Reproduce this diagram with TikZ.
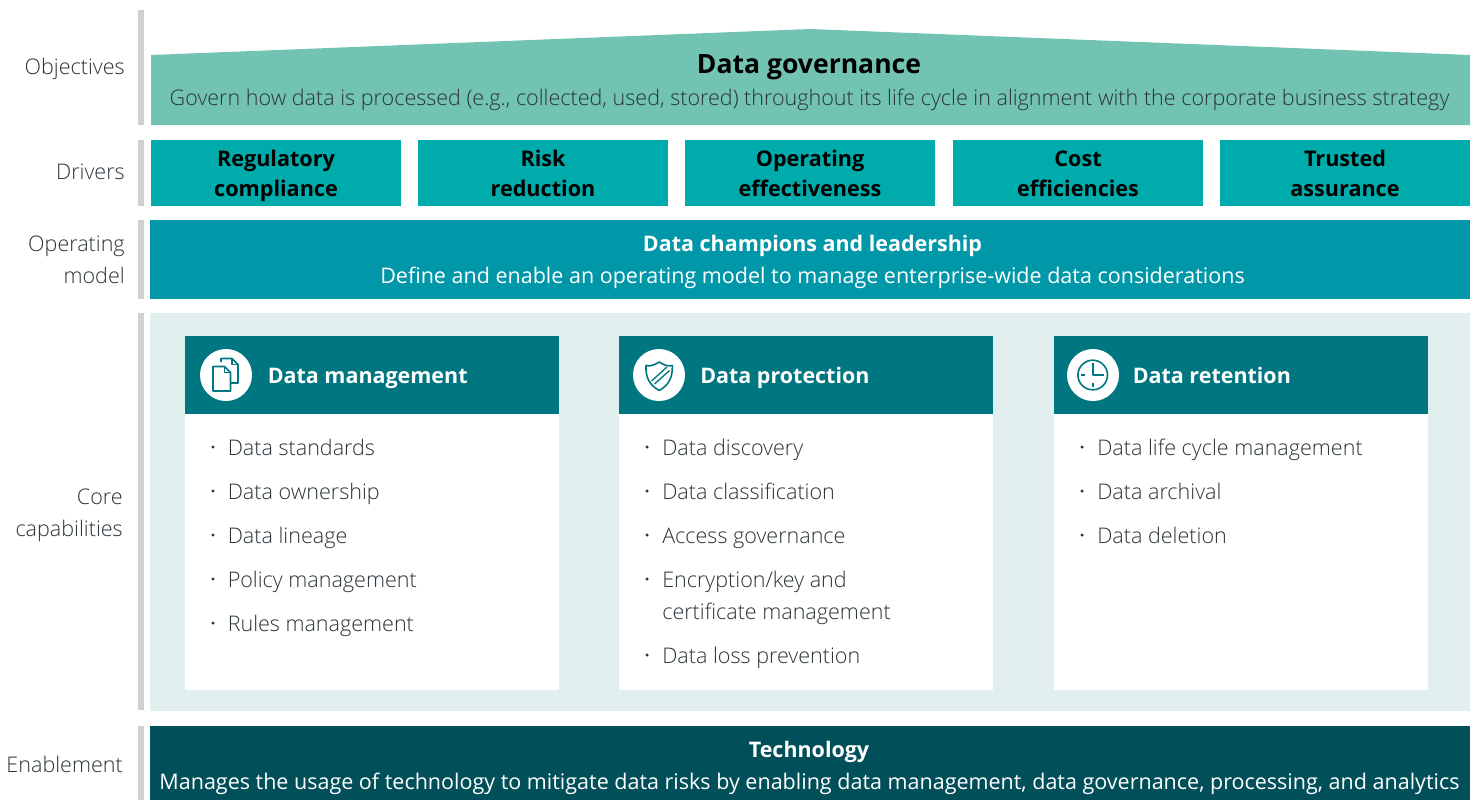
\documentclass[tikz,border=0pt]{standalone}
\usepackage{fontspec}
\setmainfont{Open Sans}[UprightFont={* Light},BoldFont={* Bold}]
\newfontfamily\regf{Open Sans}
\definecolor{cgreen}{HTML}{72C3B2}
\definecolor{cdrive}{HTML}{00ABAB}
\definecolor{coper}{HTML}{0097A9}
\definecolor{ccore}{HTML}{E2EFEF}
\definecolor{chead}{HTML}{007680}
\definecolor{ctech}{HTML}{004F59}
\definecolor{cgrey}{HTML}{D0D0CE}
\definecolor{ctext}{HTML}{2A3338}
\newcommand{\fs}{\fontsize{16.15}{24}\selectfont}
\newcommand{\fw}{\fontsize{16.13}{24}\selectfont\regf}
\newcommand{\fb}{\fontsize{16.1}{24}\selectfont\bfseries}
\newcommand{\st}{\rule[-5.25pt]{0pt}{22.5pt}}
\tikzset{
 bar/.style={fill=cgrey,draw=none},
 linelabel/.style={anchor=base east,text=ctext,inner sep=0pt,font=\fs},
 drivebox/.style={fill=cdrive,draw=none,minimum width=187.5pt,minimum height=49.5pt,inner sep=0pt,align=center,font=\fontsize{16.2}{22.5}\selectfont\bfseries,text=black},
 band/.style={draw=none,inner sep=0pt,anchor=north west,minimum width=990pt},
 card/.style={fill=white,draw=none,inner sep=0pt,anchor=north west,minimum width=280.5pt,minimum height=265.5pt},
 cardhead/.style={fill=chead,draw=none,inner sep=0pt,anchor=north west,minimum width=280.5pt,minimum height=58.5pt},
 headtext/.style={anchor=base west,inner sep=0pt,text=white,font=\fb},
 basetext/.style={anchor=base,inner sep=0pt},
 item/.style={anchor=base west,inner sep=0pt,text=ctext,font=\fs,align=left},
 dotmark/.style={circle,fill=ctext,draw=none,inner sep=0pt,minimum size=2.6pt},
 iconbg/.style={circle,fill=white,draw=none,inner sep=0pt,minimum size=39pt},
 icon/.style={draw=chead,line width=1.2pt,line join=round},
}
\begin{document}
\begin{tikzpicture}[x=0.75pt,y=-0.75pt]
\useasboundingbox (0,0) rectangle (1476,800);
% side bars
\fill[bar] (138,10) rectangle (143.5,125);
\fill[bar] (138,140) rectangle (143.5,206);
\fill[bar] (138,220) rectangle (143.5,299);
\fill[bar] (138,313) rectangle (143.5,710);
\fill[bar] (138,726) rectangle (143.5,800);
% row labels
\node[linelabel] (lobj) at (125,74) {Objectives};
\node[linelabel] (ldrv) at (125,179) {Drivers};
\node[linelabel] (lop) at (125,251) {Operating};
\node[linelabel] (lop2) at (125,283.5) {model};
\node[linelabel] (lcore) at (123,504) {Core};
\node[linelabel] (lcore2) at (123,536.5) {capabilities};
\node[linelabel] (lena) at (123,772) {Enablement};
% objective
\fill[cgreen] (151,55) -- (810,29) -- (1470,55) -- (1470,125) -- (151,125) -- cycle;
\node[basetext,text=black,font=\fontsize{19.9}{24}\selectfont\bfseries] (objt) at (809,73.5) {Data governance};
\node[basetext,text=ctext,font=\fs] (objs) at (809.5,105) {Govern how data is processed (e.g., collected, used, stored) throughout its life cycle in alignment with the corporate business strategy};
% drivers
\node[drivebox] (d1) at (276,173) {\st Regulatory\\\st compliance};
\node[drivebox] (d2) at (543,173) {\st Risk\\\st reduction};
\node[drivebox] (d3) at (810,173) {\st Operating\\\st effectiveness};
\node[drivebox] (d4) at (1078,173) {\st Cost\\\st efficiencies};
\node[drivebox] (d5) at (1345,173) {\st Trusted\\\st assurance};
% operating
\node[band,fill=coper,minimum height=59.25pt] (opb) at (150,220) {};
\node[basetext,text=white,font=\fb] (opt) at (812.5,251) {Data champions and leadership};
\node[basetext,text=white,font=\fw] (ops) at (812.5,283.5) {Define and enable an operating model to manage enterprise-wide data considerations};
% core
\node[band,fill=ccore,minimum height=298.5pt] (coreb) at (150,313) {};
\node[card] (c1) at (185,336) {};
\node[card] (c2) at (619,336) {};
\node[card] (c3) at (1054,336) {};
\node[cardhead] (h1) at (185,336) {};
\node[cardhead] (h2) at (619,336) {};
\node[cardhead] (h3) at (1054,336) {};
\node[iconbg] (i1) at (226,375) {};
\node[iconbg] (i2) at (659,375) {};
\node[iconbg] (i3) at (1093,375) {};
\node[headtext] (t1) at (267.5,383) {Data management};
\node[headtext] (t2) at (700,383) {Data protection};
\node[headtext] (t3) at (1132.5,383) {Data retention};
% icon: documents
\draw[icon] (221,362) -- (221,358.5) -- (232,358.5) -- (238,364.5) -- (238,383) -- (231,383);
\draw[icon] (232,358.5) -- (232,364.5) -- (238,364.5);
\draw[icon] (213,366.5) -- (224.5,366.5) -- (230.5,372.5) -- (230.5,391) -- (213,391) -- cycle;
\draw[icon] (224.5,366.5) -- (224.5,372.5) -- (230.5,372.5);
% icon: shield
\draw[icon] (659.3,362) .. controls (654,365.5) and (649,366.5) .. (646,365.5) .. controls (645.5,377) and (649,385) .. (659.3,390.5) .. controls (669,385) and (672.8,377) .. (672.3,365.5) .. controls (669,366.5) and (664,365.5) .. (659.3,362) -- cycle;
\draw[icon,line width=1pt] (651.5,381) -- (667,367);
\draw[icon,line width=1pt] (654.5,384) -- (669.5,370.5);
% icon: clock
\draw[icon] (1092.7,375) circle[radius=14.8];
\draw[icon] (1092.7,363) -- (1092.7,375) -- (1104,375);
\draw[icon] (1092.7,383) -- (1092.7,387);
\draw[icon] (1080.7,375) -- (1085,375);
% items 1
\foreach \n/\y/\t in {a/455/Data standards,b/499/Data ownership,c/543/Data lineage,d/587/Policy management,e/631/Rules management}{
  \node[dotmark] (m1\n) at (213,\y-8) {};
  \node[item] (p1\n) at (227.5,\y) {\t};
}
% items 2
\foreach \n/\y/\t in {a/455/Data discovery,b/499/Data classification,c/543/Access governance,d/587/{Encryption/key and},f/663/Data loss prevention}{
  \node[dotmark] (m2\n) at (647,\y-8) {};
  \node[item] (p2\n) at (662,\y) {\t};
}
\node[item] (p2e) at (662,619) {certificate management};
% items 3
\foreach \n/\y/\t in {a/455/Data life cycle management,b/499/Data archival,c/543/Data deletion}{
  \node[dotmark] (m3\n) at (1082,\y-8) {};
  \node[item] (p3\n) at (1097,\y) {\t};
}
% technology
\node[band,fill=ctech,minimum height=55.5pt] (tb) at (150,726) {};
\node[basetext,text=white,font=\fb] (tt) at (809,757) {Technology};
\node[basetext,text=white,font=\fw] (ts) at (809.5,789.5) {Manages the usage of technology to mitigate data risks by enabling data management, data governance, processing, and analytics};
\end{tikzpicture}
\end{document}
